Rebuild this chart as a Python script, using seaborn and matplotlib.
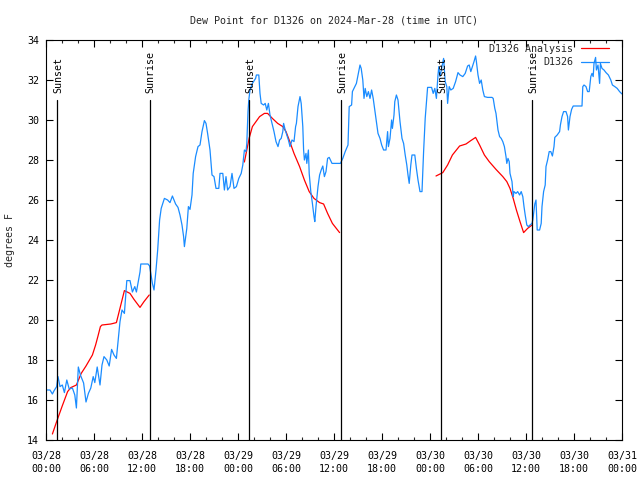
import matplotlib
matplotlib.use("Agg")
import matplotlib.pyplot as plt
import seaborn as sns
import pandas as pd
import numpy as np

# ---------------- data (hours since 03/28 00:00 UTC) ----------------
obs_hours = [0.0, 0.5, 0.8, 1.0, 1.33, 1.5, 1.75, 2.04, 2.3, 2.6, 2.9, 3.3, 3.6, 3.8, 4.04, 4.3, 4.7,
             5.0, 5.3, 5.6, 5.9, 6.1, 6.4, 6.75, 7.0, 7.25, 7.6, 7.9, 8.2, 8.5, 8.8, 9.0, 9.25, 9.5,
             9.8, 10.1, 10.5, 10.8, 11.1, 11.3, 11.75, 11.85, 12.75, 12.95, 13.1, 13.3, 13.5, 13.75,
             13.96, 14.2, 14.4, 14.8, 15.2, 15.5, 15.8, 16.2, 16.5, 16.75, 17.0, 17.2, 17.3, 17.6,
             17.8, 18.0, 18.25, 18.4, 18.7, 19.0, 19.25, 19.5, 19.8, 20.0, 20.2, 20.5, 20.75, 21.0,
             21.25, 21.6, 21.75, 22.1, 22.3, 22.5, 22.7, 23.0, 23.25, 23.5, 23.8, 24.1, 24.4, 24.6,
             24.8, 25.0, 25.1, 25.25, 25.35, 25.5, 25.8, 26.2, 26.3, 26.6, 26.75, 26.9, 27.2, 27.4,
             27.6, 27.8, 28.0, 28.25, 28.5, 28.75, 29.0, 29.2, 29.4, 29.6, 29.7, 29.9, 30.1, 30.3,
             30.5, 30.75, 31.0, 31.2, 31.3, 31.5, 31.75, 31.9, 32.1, 32.2, 32.3, 32.5, 32.6, 32.8,
             32.9, 33.1, 33.3, 33.5, 33.6, 33.75, 34.0, 34.2, 34.4, 34.6, 34.8, 35.0, 35.2, 35.4,
             35.75, 36.25, 36.8, 37.1, 37.4, 37.75, 37.9, 38.2, 38.3, 38.6, 38.8, 39.0, 39.25, 39.4,
             39.6, 39.75, 39.9, 40.1, 40.3, 40.5, 40.7, 40.9, 41.1, 41.3, 41.5, 41.75, 41.96, 42.2,
             42.5, 42.7, 42.8, 43.0, 43.2, 43.3, 43.5, 43.6, 43.8, 44.0, 44.25, 44.5, 44.7, 44.9,
             45.1, 45.25, 45.4, 45.6, 45.75, 46.1, 46.3, 46.5, 46.75, 47.0, 47.2, 47.4, 47.6, 47.7,
             48.2, 48.4, 48.6, 48.8, 49.0, 49.1, 49.25, 49.5, 49.7, 49.9, 50.1, 50.2, 50.4, 50.6,
             50.9, 51.2, 51.5, 51.75, 52.1, 52.4, 52.7, 52.9, 53.1, 53.3, 53.5, 53.7, 53.8, 54.0,
             54.2, 54.4, 54.6, 54.8, 55.2, 55.75, 55.9, 56.1, 56.25, 56.5, 56.7, 56.9, 57.1, 57.3,
             57.5, 57.6, 57.75, 57.9, 58.0, 58.25, 58.4, 58.5, 58.75, 58.96, 59.2, 59.4, 59.6, 59.75,
             59.9, 60.1, 60.3, 60.5, 60.75, 60.85, 61.1, 61.25, 61.4, 61.7, 61.9, 62.0, 62.2, 62.4,
             62.5, 62.7, 62.9, 63.1, 63.3, 63.5, 63.6, 63.9, 64.2, 64.3, 64.5, 64.7, 65.0, 65.2,
             65.3, 65.5, 65.7, 65.9, 66.5, 67.0, 67.1, 67.25, 67.5, 67.7, 67.9, 68.1, 68.25, 68.4,
             68.5, 68.7, 68.8, 69.0, 69.2, 69.3, 69.5, 69.75, 70.0, 70.3, 70.6, 70.8, 71.1, 71.4,
             71.7, 72.0]
obs_dewpoint = [16.5, 16.5, 16.3, 16.46, 16.67, 17.17, 16.67, 16.75, 16.37, 17.0, 16.55, 16.6, 16.25,
                15.6, 17.65, 17.25, 16.85, 15.9, 16.33, 16.6, 17.17, 16.87, 17.65, 16.75, 17.75, 18.17,
                18.0, 17.7, 18.53, 18.25, 18.08, 18.92, 19.92, 20.5, 20.33, 21.97, 21.97, 21.4, 21.67,
                21.4, 22.4, 22.8, 22.8, 22.7, 22.33, 21.83, 21.5, 22.5, 23.5, 25.0, 25.58, 26.08, 26.0,
                25.87, 26.2, 25.8, 25.63, 25.25, 24.75, 24.17, 23.67, 24.58, 25.67, 25.53, 26.25, 27.33,
                28.17, 28.67, 28.75, 29.42, 29.97, 29.83, 29.33, 28.5, 27.25, 27.17, 26.58, 26.58, 27.33,
                27.33, 26.5, 27.17, 26.5, 26.67, 27.33, 26.58, 26.67, 27.08, 27.33, 27.75, 28.5, 28.42,
                28.83, 30.42, 31.0, 31.5, 31.83, 32.08, 32.25, 32.25, 31.33, 30.83, 30.75, 30.83, 30.5,
                30.83, 30.25, 29.83, 29.42, 28.92, 28.67, 29.0, 29.08, 29.42, 29.83, 29.5, 29.25, 29.0,
                28.67, 29.0, 28.92, 29.67, 29.83, 30.67, 31.17, 30.83, 29.67, 28.5, 28.0, 28.33, 27.83,
                28.5, 27.33, 26.42, 25.83, 25.17, 24.92, 25.67, 26.67, 27.25, 27.5, 27.7, 27.17, 27.42,
                28.08, 28.13, 27.83, 27.83, 27.83, 28.08, 28.42, 28.75, 30.67, 30.75, 31.42, 31.67,
                31.83, 32.25, 32.75, 32.58, 32.0, 31.08, 31.58, 31.17, 31.42, 31.08, 31.5, 31.08, 30.5,
                29.92, 29.33, 29.08, 28.75, 28.5, 28.5, 29.42, 28.67, 29.08, 30.0, 29.58, 30.25, 30.92,
                31.25, 31.0, 29.92, 29.08, 28.83, 28.25, 27.75, 27.25, 26.83, 27.75, 28.25, 28.25,
                27.58, 27.0, 26.42, 26.42, 28.42, 30.08, 31.08, 31.63, 31.63, 31.33, 31.58, 31.08,
                32.25, 32.67, 32.17, 32.67, 33.08, 31.92, 31.67, 30.83, 31.67, 31.5, 31.58, 31.92,
                32.37, 32.25, 32.17, 32.33, 32.7, 32.75, 32.42, 32.67, 32.92, 33.2, 32.92, 32.25,
                31.83, 32.0, 31.5, 31.17, 31.13, 31.13, 31.08, 30.58, 30.33, 29.5, 29.17, 29.08,
                28.92, 28.67, 28.17, 27.83, 28.08, 27.92, 27.33, 26.92, 26.17, 26.42, 26.33, 26.42,
                26.25, 26.42, 26.17, 25.67, 25.25, 24.75, 24.67, 24.75, 24.83, 25.0, 25.8, 26.0, 24.5,
                24.5, 24.83, 25.67, 26.42, 26.75, 27.67, 28.0, 28.42, 28.42, 28.2, 28.67, 29.13, 29.25,
                29.42, 29.75, 30.17, 30.42, 30.42, 30.17, 29.5, 30.17, 30.53, 30.7, 30.7, 30.7, 31.67,
                31.75, 31.67, 31.42, 31.42, 32.17, 32.33, 32.17, 32.83, 33.13, 32.5, 32.75, 31.83,
                32.83, 32.58, 32.5, 32.37, 32.25, 32.0, 31.75, 31.67, 31.58, 31.42, 31.3]

ana_hours_1 = [0.8, 1.33, 2.0, 2.7, 3.1, 3.8, 4.4, 5.0, 5.8, 6.2, 6.5, 6.8, 7.0, 8.1, 8.8, 9.3, 9.8,
               10.5, 11.0, 11.75, 12.25, 12.9]
ana_dewpoint_1 = [14.3, 14.92, 15.67, 16.42, 16.62, 16.75, 17.33, 17.7, 18.25, 18.75, 19.2, 19.67,
                  19.75, 19.8, 19.87, 20.67, 21.47, 21.33, 21.03, 20.63, 20.92, 21.25]
ana_hours_2 = [24.8, 25.1, 25.4, 25.8, 26.25, 26.7, 27.3, 27.7, 28.3, 28.96, 29.6, 30.0, 30.4, 31.0,
               31.7, 32.3, 32.9, 33.5, 34.2, 34.7, 35.2, 35.8, 36.7]
ana_dewpoint_2 = [27.9, 28.5, 29.1, 29.67, 29.92, 30.17, 30.33, 30.33, 30.08, 29.83, 29.67, 29.42,
                  29.0, 28.33, 27.67, 27.0, 26.42, 26.08, 25.87, 25.8, 25.33, 24.83, 24.37]
ana_hours_3 = [48.75, 49.6, 50.2, 50.8, 51.7, 52.5, 53.1, 53.7, 54.2, 54.8, 55.4, 56.25, 57.1, 57.6,
               58.0, 58.4, 58.8, 59.25, 59.7, 60.2, 60.75]
ana_dewpoint_3 = [27.2, 27.37, 27.75, 28.25, 28.7, 28.8, 28.97, 29.13, 28.75, 28.25, 27.92, 27.53,
                  27.17, 26.92, 26.58, 26.08, 25.5, 24.92, 24.37, 24.58, 24.75]

sun_hours = [1.41, 13.0, 25.41, 36.9, 49.41, 60.79]
sun_labels = ["Sunset", "Sunrise", "Sunset", "Sunrise", "Sunset", "Sunrise"]

tick_hours = [0, 6, 12, 18, 24, 30, 36, 42, 48, 54, 60, 66, 72]
tick_dates = ["03/28", "03/28", "03/28", "03/28", "03/29", "03/29", "03/29", "03/29",
              "03/30", "03/30", "03/30", "03/30", "03/31"]
tick_times = ["00:00", "06:00", "12:00", "18:00", "00:00", "06:00", "12:00", "18:00",
              "00:00", "06:00", "12:00", "18:00", "00:00"]

title = "Dew Point for D1326 on 2024-Mar-28 (time in UTC)"
ylabel = "degrees F"

# ---------------- style ----------------
sns.set_theme(style="white")
FONT = ["DejaVu Sans Mono", "DejaVu Sans"]
plt.rcParams["font.family"] = FONT
plt.rcParams["font.size"] = 7.2
plt.rcParams["axes.linewidth"] = 0.8
plt.rcParams["axes.edgecolor"] = "black"

fig = plt.figure(figsize=(6.4, 4.8), dpi=100)
ax = fig.add_axes([46 / 640, 1 - 440 / 480, 576 / 640, 400 / 480])

red = "#ff0000"
blue = "#1a8cff"

segments = [(ana_hours_1, ana_dewpoint_1), (ana_hours_2, ana_dewpoint_2), (ana_hours_3, ana_dewpoint_3)]
for i, (h, v) in enumerate(segments):
    df = pd.DataFrame({"hour": h, "dew": v})
    sns.lineplot(data=df, x="hour", y="dew", ax=ax, color=red, linewidth=0.9,
                 label="D1326 Analysis" if i == 0 else None, legend=False)

df_obs = pd.DataFrame({"hour": obs_hours, "dew": obs_dewpoint})
sns.lineplot(data=df_obs, x="hour", y="dew", ax=ax, color=blue, linewidth=0.9,
             label="D1326", legend=False)

for h, lab in zip(sun_hours, sun_labels):
    ax.plot([h, h], [14, 31], color="black", linewidth=0.9)
    ax.text(h + 0.1, 31.35, lab, rotation=90, ha="center", va="bottom", fontsize=7.2,
            family=FONT, color="black")

ax.set_xlim(0, 72)
ax.set_ylim(14, 34)
ax.set_xticks(tick_hours)
ax.set_xticklabels([d + "\n" + t for d, t in zip(tick_dates, tick_times)], linespacing=1.4)
ax.set_xticks(np.arange(0, 73, 2), minor=True)
ax.set_yticks(np.arange(14, 35, 2))
ax.set_xlabel("")
ax.set_ylabel("")
ax.tick_params(axis="both", which="major", direction="in", length=5, width=0.8,
               top=True, right=True, bottom=True, left=True, labelsize=7.2, colors="black")
ax.tick_params(axis="x", which="major", pad=8)
ax.tick_params(axis="y", which="major", pad=5)
ax.tick_params(axis="x", which="minor", direction="in", length=2.5, width=0.8,
               top=True, bottom=True)
for sp in ax.spines.values():
    sp.set_visible(True)
    sp.set_color("black")
    sp.set_linewidth(0.8)
ax.grid(False)

ax.set_title(title, fontsize=7.2, pad=12, family=FONT)
fig.text(10 / 640, 0.5, ylabel, rotation=90, ha="center", va="center", fontsize=7.2, family=FONT)

handles, labels = ax.get_legend_handles_labels()
ax.legend(handles, labels, loc="upper right", bbox_to_anchor=((609 - 46) / 576, (440 - 44) / 400),
          frameon=False, markerfirst=False, fontsize=7.2, handlelength=2.8, handletextpad=0.8,
          borderpad=0, borderaxespad=0, labelspacing=0.35)

fig.savefig("out.png", dpi=100)
